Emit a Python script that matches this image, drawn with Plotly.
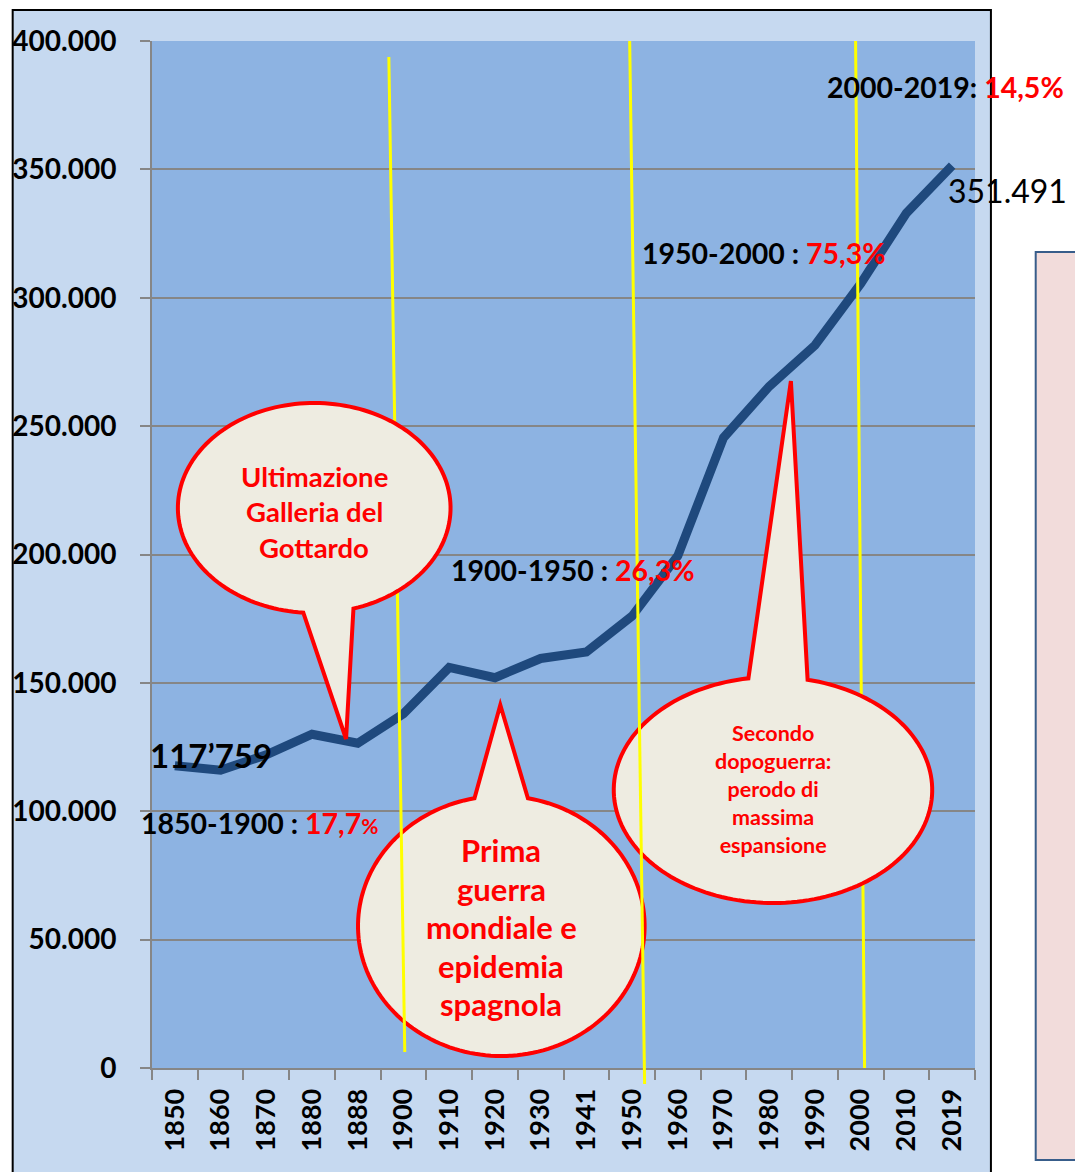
import math

import plotly.graph_objects as go

# population by census year
years = ["1850", "1860", "1870", "1880", "1888", "1900", "1910", "1920", "1930",
         "1941", "1950", "1960", "1970", "1980", "1990", "2000", "2010", "2019"]
population = [117759, 116000, 122000, 130000, 126500, 138000, 156000, 152000, 159500,
              162000, 176000, 199500, 245500, 265500, 281500, 305500, 333000, 351491]

y_ticks = [0, 50000, 100000, 150000, 200000, 250000, 300000, 350000, 400000]

period_labels = ["1850-1900 : ", "1900-1950 : ", "1950-2000 : ", "2000-2019: "]
period_growth = ["17,7", "26,3%", "75,3%", "14,5%"]

first_label = "117’759"
last_label = "351.491"

note_gottardo = ["Ultimazione", "Galleria del", "Gottardo"]
note_guerra = ["Prima", "guerra", "mondiale e", "epidemia", "spagnola"]
note_dopoguerra = ["Secondo", "dopoguerra:", "perodo di", "massima", "espansione"]

W, H = 1075, 1172
L, R, T, B = 148, 975, 41, 1068

FONT = "Lato"
RED = "#ff0000"


def px(x):
    return (x - L) / (R - L)


def py(y):
    return (B - y) / (B - T)


def bubble_path(cx, cy, rx, ry, b1, tip, b2, n=160):
    a1 = math.atan2((b1[1] - cy) / ry, (b1[0] - cx) / rx)
    a2 = math.atan2((b2[1] - cy) / ry, (b2[0] - cx) / rx)
    d = (a1 - a2) % (2 * math.pi)
    sweep = d if d > math.pi else d - 2 * math.pi
    pts = [tip]
    for i in range(n + 1):
        a = a2 + sweep * i / n
        pts.append((cx + rx * math.cos(a), cy + ry * math.sin(a)))
    return "M " + " L ".join(f"{px(x):.5f},{py(y):.5f}" for x, y in pts) + " Z"


def bubble(cx, cy, rx, ry, b1, tip, b2):
    return dict(type="path", xref="paper", yref="paper",
                path=bubble_path(cx, cy, rx, ry, b1, tip, b2),
                fillcolor="#eeece1", line=dict(color=RED, width=4), layer="above")


def yline(x0, y0, x1, y1):
    return dict(type="line", xref="paper", yref="paper",
                x0=px(x0), y0=py(y0), x1=px(x1), y1=py(y1),
                line=dict(color="#ffff00", width=3), layer="above")


fig = go.Figure(
    go.Scatter(
        x=years, y=population, mode="lines",
        line=dict(color="#1f497d", width=9),
        hoverinfo="skip",
    )
)

shapes = [
    # chart area
    dict(type="rect", xref="paper", yref="paper",
         x0=px(8), x1=px(991), y0=py(1200), y1=py(10),
         fillcolor="#c6d9f0", line=dict(color="black", width=2), layer="below"),
    # plot area
    dict(type="rect", xref="paper", yref="paper",
         x0=0, x1=1, y0=0, y1=1,
         fillcolor="#8db3e2", line=dict(width=0), layer="below"),
    # side box
    dict(type="rect", xref="paper", yref="paper",
         x0=px(1036), x1=px(1100), y0=py(1160), y1=py(252),
         fillcolor="#f2dcdb", line=dict(color="#385d8a", width=2), layer="below"),
    yline(855, 41, 864, 1068),
    bubble(772, 790, 160, 113, (747, 677), (790, 381), (807, 679)),
    bubble(499, 926, 144, 130, (472, 798), (498, 705), (526, 797)),
    yline(386, 57, 402, 1052),
    yline(628, 41, 643, 1084),
    bubble(311, 508, 137, 105, (300, 613), (343, 739), (351, 610)),
]

annotations = []


def note(text, x, y, size, color="black", weight="bold", xanchor="left"):
    annotations.append(dict(
        text=text, xref="paper", yref="paper", x=px(x), y=py(y),
        xanchor=xanchor, yanchor="middle", showarrow=False,
        font=dict(family=FONT, size=size, color=color, weight=weight),
    ))


note(first_label, 144, 755, 33)
note(last_label, 946, 190, 32, weight="normal")

note(period_labels[0] + f"<span style='color:{RED}'>{period_growth[0]}"
     f"<span style='font-size:21px'>%</span></span>", 135, 823, 28.5)
note(period_labels[1] + f"<span style='color:{RED}'>{period_growth[1]}</span>", 446, 570, 28.5)
note(period_labels[2] + f"<span style='color:{RED}'>{period_growth[2]}</span>", 638, 253, 28.5)
note(period_labels[3] + f"<span style='color:{RED}'>{period_growth[3]}</span>", 824, 87, 28.5)

for i, line in enumerate(note_gottardo):
    note(line, 311, 476 + 35.5 * i, 27.5, color=RED, xanchor="center")
for i, line in enumerate(note_guerra):
    note(line, 499, 850 + 38.5 * i, 31, color=RED, xanchor="center")
note("<br>".join(note_dopoguerra), 772, 789, 21.5, color=RED, xanchor="center")

fig.update_layout(
    width=W, height=H,
    margin=dict(l=L, r=W - R, t=T, b=H - B, pad=0),
    paper_bgcolor="white",
    plot_bgcolor="rgba(0,0,0,0)",
    separators=",.",
    showlegend=False,
    shapes=shapes,
    annotations=annotations,
    xaxis=dict(
        type="category", tickson="boundaries", range=[-0.5, len(years) - 0.5],
        tickangle=-90, ticks="outside", ticklen=10, tickwidth=2, tickcolor="#868686",
        showline=True, linecolor="#868686", linewidth=2,
        showgrid=False, zeroline=False,
        tickfont=dict(family=FONT, size=27, color="black", weight="bold"),
        ticklabelstandoff=8,
    ),
    yaxis=dict(
        range=[0, 400000], tickvals=y_ticks, tickformat=",.0f",
        ticks="outside", ticklen=10, tickwidth=2, tickcolor="#868686",
        showline=True, linecolor="#868686", linewidth=2,
        showgrid=True, gridcolor="#868686", gridwidth=2, zeroline=False,
        tickfont=dict(family=FONT, size=28, color="black", weight="bold"),
        ticklabelstandoff=18,
    ),
)

fig.write_html("out.html", config={"displayModeBar": False},
               post_script="document.body.style.margin='0px';")
